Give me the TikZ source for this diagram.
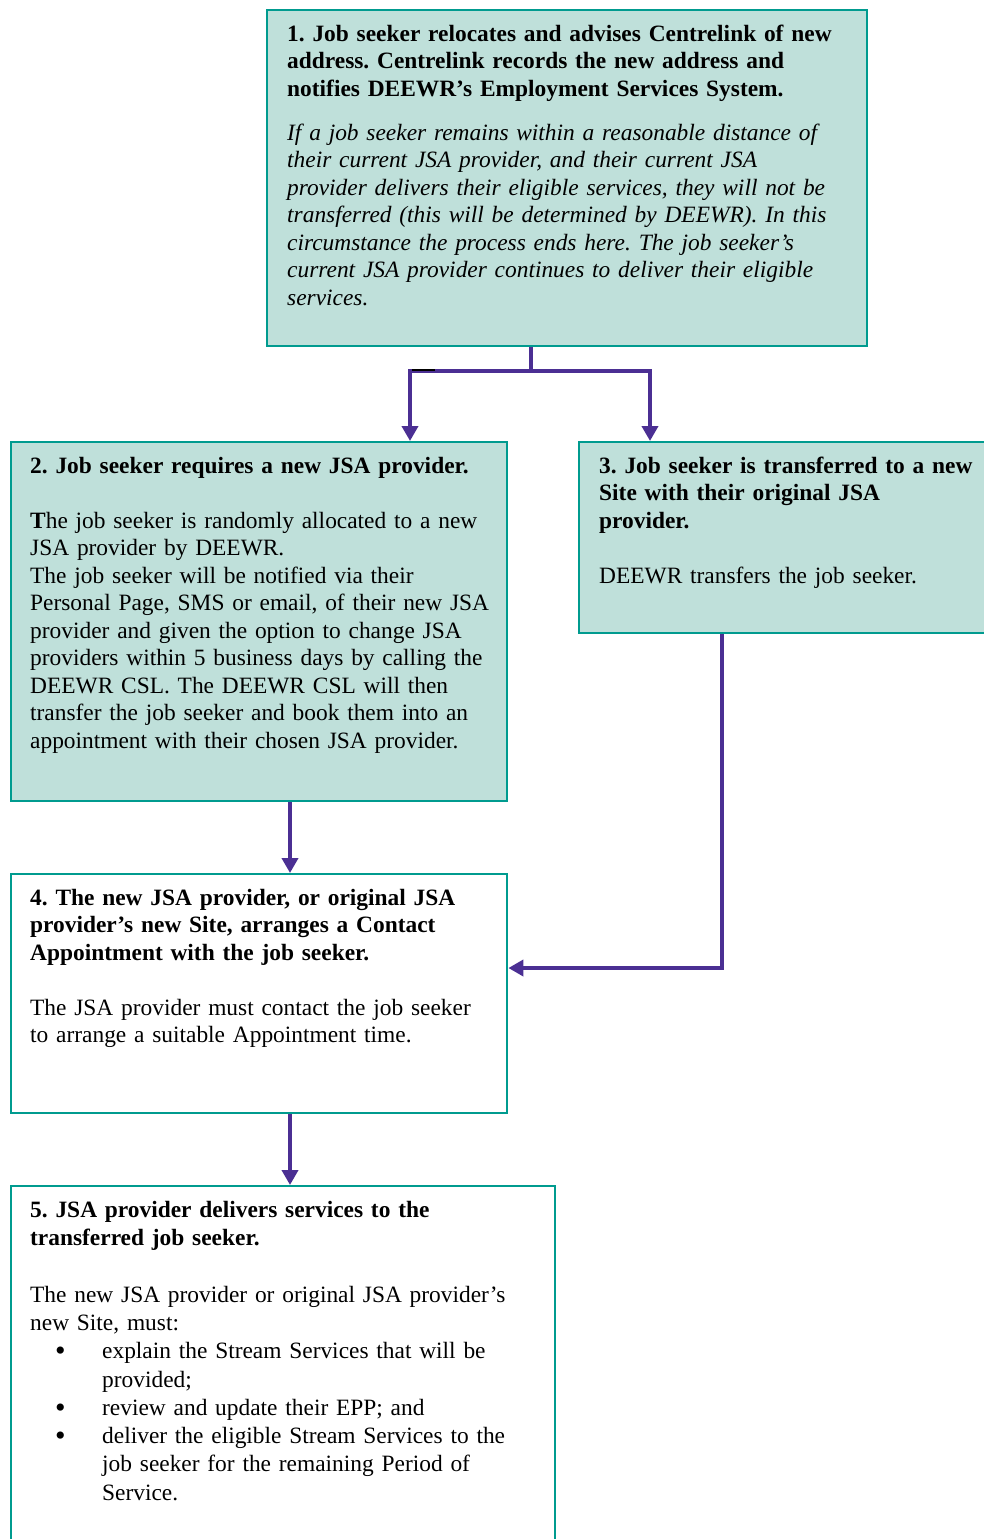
\documentclass[tikz,border=0pt]{standalone}
\usepackage{fontspec}
\setmainfont{Liberation Serif}
\usepackage{tikz}
\usetikzlibrary{arrows.meta,positioning}
\usepackage{xcolor}
\definecolor{jsateal}{HTML}{009B8F}
\definecolor{jsafill}{HTML}{BFE0DA}
\definecolor{jsapurple}{HTML}{4B2F93}
\frenchspacing
\newcommand{\jsabullet}{\hspace*{12.5pt}\makebox[23.5pt][l]{\raisebox{-1pt}{\fontsize{15}{14}\selectfont\textbullet}}}
\newcommand{\jsahang}{\hspace*{36pt}}

\begin{document}
\begin{tikzpicture}[
  node distance=35.3pt,
  box/.style={
    rectangle, draw=jsateal, line width=1.2pt, anchor=north west,
    inner xsep=9.5pt, inner ysep=7.5pt, text height=8pt, align=left,
    font=\fontsize{11.7}{13.75}\selectfont
  },
  shaded/.style={box, fill=jsafill},
  plain/.style={box, fill=white},
  arr/.style={-{Triangle[length=7.5pt,width=8pt]}, line width=2pt, jsapurple},
]
  \useasboundingbox (0,0) rectangle (492pt,-769.5pt);

  % Step 1
  \node[shaded, inner xsep=10pt, text width=280pt, text depth=145pt] (relocate) at (133pt,-4.5pt) {%
    \textbf{1. Job seeker relocates and advises Centrelink of new}\\
    \textbf{address. Centrelink records the new address and}\\
    \textbf{notifies DEEWR’s Employment Services System.}\\[8.25pt]
    \textit{If a job seeker remains within a reasonable distance of}\\
    \textit{their current JSA provider, and their current JSA}\\
    \textit{provider delivers their eligible services, they will not be}\\
    \textit{transferred (this will be determined by DEEWR). In this}\\
    \textit{circumstance the process ends here. The job seeker’s}\\
    \textit{current JSA provider continues to deliver their eligible}\\
    \textit{services.}};

  % Step 2 and step 3
  \node[shaded, text width=229pt, text depth=156.5pt] (newprov) at (5pt,-220.5pt) {%
    \textbf{2. Job seeker requires a new JSA provider.}\\[13.75pt]
    \textbf{T}he job seeker is randomly allocated to a new\\
    JSA provider by DEEWR.\\
    The job seeker will be notified via their\\
    \mbox{Personal Page, SMS or email, of their new JSA}\\
    provider and given the option to change JSA\\
    \mbox{providers within 5 business days by calling the}\\
    DEEWR CSL. The DEEWR CSL will then\\
    transfer the job seeker and book them into an\\
    appointment with their chosen JSA provider.};
  \node[shaded, inner xsep=10pt, text width=200pt, text depth=72.5pt,
        right=34.8pt of newprov.north east, anchor=north west] (transfer) {%
    \textbf{3. Job seeker is transferred to a new}\\
    \textbf{Site with their original JSA}\\
    \textbf{provider.}\\[13.75pt]
    DEEWR transfers the job seeker.};

  % Step 4
  \node[plain, text width=229pt, text depth=96.5pt,
        below=of newprov.south west, anchor=north west] (contact) {%
    \textbf{4. The new JSA provider, or original JSA}\\
    \textbf{provider’s new Site, arranges a Contact}\\
    \textbf{Appointment with the job seeker.}\\[13.75pt]
    The JSA provider must contact the job seeker\\
    to arrange a suitable Appointment time.};

  % Step 5
  \node[plain, text width=253pt, text depth=177pt,
        font=\fontsize{11.7}{14.15}\selectfont,
        below=of contact.south west, anchor=north west] (deliver) {%
    \textbf{5. JSA provider delivers services to the}\\
    \textbf{transferred job seeker.}\\[14.15pt]
    The new JSA provider or original JSA provider’s\\
    new Site, must:\\
    \jsabullet explain the Stream Services that will be\\
    \jsahang provided;\\
    \jsabullet review and update their EPP; and\\
    \jsabullet deliver the eligible Stream Services to the\\
    \jsahang job seeker for the remaining Period of\\
    \jsahang Service.};

  % Arrows
  \coordinate (fork) at ([xshift=-18pt,yshift=-12pt]relocate.south);
  \draw[arr] ([xshift=-18pt]relocate.south) -- (fork) -| ([xshift=200pt]newprov.north west);
  \draw[arr] (fork) -| ([xshift=36pt]transfer.north west);
  \draw[black, line width=1pt] ([xshift=-59.7pt,yshift=0.5pt]fork) -- ([xshift=-48.3pt,yshift=0.5pt]fork);
  \draw[arr] ([xshift=140pt]newprov.south west) -- ([xshift=140pt]contact.north west);
  \draw[arr] ([xshift=72pt]transfer.south west) |- ([yshift=-47.5pt]contact.north east);
  \draw[arr] ([xshift=140pt]contact.south west) -- ([xshift=140pt]deliver.north west);
\end{tikzpicture}
\end{document}
